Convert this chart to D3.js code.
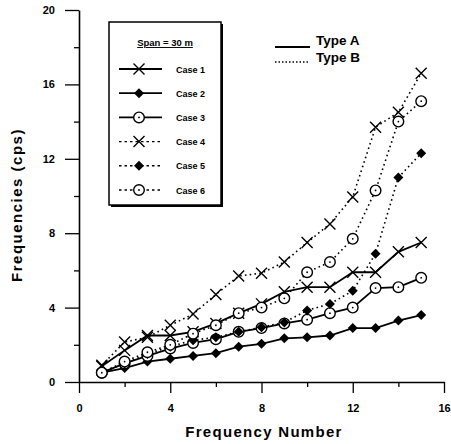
<!DOCTYPE html>
<html>
<head>
<meta charset="utf-8">
<script src="https://cdn.jsdelivr.net/npm/d3@7"></script>
<style>
  body { margin: 0; background: #fff; }
  svg { display: block; }
  text { font-family: "Liberation Sans", Arial, sans-serif; font-weight: bold; fill: #000; }
</style>
</head>
<body>
<div class="chart"></div>
<script>
// frequency numbers 1..15
const modes = [1, 2, 3, 4, 5, 6, 7, 8, 9, 10, 11, 12, 13, 14, 15];

// Type A (solid)
const case1 = [0.85, 1.7, 2.5, 2.5, 2.7, 3.15, 3.7, 4.2, 4.85, 5.1, 5.1, 5.9, 5.9, 7.0, 7.5];
const case2 = [0.5, 0.75, 1.1, 1.25, 1.4, 1.55, 1.9, 2.05, 2.35, 2.4, 2.5, 2.9, 2.9, 3.3, 3.6];
const case3 = [0.5, 1.0, 1.4, 1.8, 2.1, 2.3, 2.7, 2.9, 3.15, 3.35, 3.7, 4.0, 5.05, 5.1, 5.6];
// Type B (dotted)
const case4 = [0.9, 2.15, 2.4, 3.05, 3.65, 4.7, 5.7, 5.85, 6.45, 7.5, 8.5, 9.95, 13.7, 14.5, 16.6];
const case5 = [0.5, 1.0, 1.5, 1.9, 2.25, 2.4, 2.7, 2.95, 3.2, 3.85, 4.2, 4.9, 6.9, 11.0, 12.3];
const case6 = [0.5, 1.1, 1.6, 2.0, 2.6, 3.05, 3.7, 4.0, 4.5, 5.9, 6.45, 7.7, 10.3, 14.0, 15.1];

const caseNames = ["Case 1", "Case 2", "Case 3", "Case 4", "Case 5", "Case 6"];
const caseMarkers = ["x", "diamond", "circle", "x", "diamond", "circle"];
const caseTypes = ["A", "A", "A", "B", "B", "B"];
const caseValues = [case1, case2, case3, case4, case5, case6];

const xTicks = [0, 4, 8, 12, 16];
const yTicks = [0, 4, 8, 12, 16, 20];

const width = 451, height = 444;

const svg = d3.select(".chart").append("svg")
  .attr("width", width)
  .attr("height", height);

const x = d3.scaleLinear().domain([0, 16]).range([79, 444]);
const y = d3.scaleLinear().domain([0, 20]).range([382, 10]);

// axes: major + minor ticks
svg.append("g")
  .attr("transform", `translate(0,${y(0)})`)
  .call(d3.axisBottom(x).tickValues(xTicks).tickSize(11).tickSizeOuter(0).tickPadding(11));
svg.append("g")
  .attr("transform", `translate(0,${y(0)})`)
  .call(d3.axisBottom(x).tickValues([2, 6, 10, 14]).tickSize(5).tickFormat(""))
  .select(".domain").remove();

svg.append("g")
  .attr("transform", `translate(${x(0)},0)`)
  .call(d3.axisLeft(y).tickValues(yTicks).tickSize(14).tickSizeOuter(0).tickPadding(10));
svg.append("g")
  .attr("transform", `translate(${x(0)},0)`)
  .call(d3.axisLeft(y).tickValues([2, 6, 10, 14, 18]).tickSize(5).tickFormat(""))
  .select(".domain").remove();

svg.selectAll(".domain").attr("stroke-width", 1.6);
svg.selectAll(".tick line").attr("stroke-width", 1.3);
svg.selectAll(".tick text")
  .style("font-family", "'Liberation Sans', Arial, sans-serif")
  .style("font-weight", "bold")
  .style("font-size", "11px");

// axis titles
svg.append("text")
  .attr("x", 264).attr("y", 437)
  .attr("text-anchor", "middle")
  .style("font-size", "15px")
  .style("letter-spacing", "1.3px")
  .text("Frequency Number");

svg.append("text")
  .attr("transform", "translate(22,205) rotate(-90)")
  .attr("text-anchor", "middle")
  .style("font-size", "15px")
  .style("letter-spacing", "1.5px")
  .text("Frequencies (cps)");

// marker drawing
function drawMarker(g, type, cx, cy) {
  if (type === "x") {
    const s = 5.5;
    g.append("path")
      .attr("d", `M${cx - s},${cy - s}L${cx + s},${cy + s}M${cx - s},${cy + s}L${cx + s},${cy - s}`)
      .attr("stroke", "#000").attr("stroke-width", 1.4).attr("fill", "none");
  } else if (type === "circle") {
    g.append("circle")
      .attr("cx", cx).attr("cy", cy).attr("r", 5.3)
      .attr("fill", "#fff").attr("stroke", "#000").attr("stroke-width", 1.4);
    g.append("circle")
      .attr("cx", cx).attr("cy", cy).attr("r", 0.9).attr("fill", "#000");
  } else {
    const s = 5;
    g.append("path")
      .attr("d", `M${cx},${cy - s}L${cx + s},${cy}L${cx},${cy + s}L${cx - s},${cy}Z`)
      .attr("fill", "#000");
  }
}

const line = d3.line().x((d, i) => x(modes[i])).y(d => y(d));

const plot = svg.append("g");
caseValues.forEach((vals, k) => {
  const g = plot.append("g").attr("class", "series");
  g.append("path")
    .datum(vals)
    .attr("d", line)
    .attr("fill", "none")
    .attr("stroke", "#000")
    .attr("stroke-width", caseTypes[k] === "A" ? 1.8 : 1.6)
    .attr("stroke-dasharray", caseTypes[k] === "A" ? null : "1.6,3.2");
  vals.forEach((v, i) => drawMarker(g, caseMarkers[k], x(modes[i]), y(v)));
});

// legend box
const lg = svg.append("g");
lg.append("rect")
  .attr("x", 111).attr("y", 24).attr("width", 112).attr("height", 183)
  .attr("fill", "#000");
lg.append("rect")
  .attr("x", 109).attr("y", 22).attr("width", 112).attr("height", 183)
  .attr("fill", "#fff").attr("stroke", "#000").attr("stroke-width", 1.5);

lg.append("text")
  .attr("x", 165).attr("y", 46)
  .attr("text-anchor", "middle")
  .style("font-size", "9.5px")
  .style("text-decoration", "underline")
  .text("Span = 30 m");

caseNames.forEach((name, k) => {
  const yy = 69 + k * 24.2;
  lg.append("line")
    .attr("x1", 119).attr("x2", 162).attr("y1", yy).attr("y2", yy)
    .attr("stroke", "#000")
    .attr("stroke-width", caseTypes[k] === "A" ? 1.8 : 1.4)
    .attr("stroke-dasharray", caseTypes[k] === "A" ? null : "2.5,3");
  drawMarker(lg, caseMarkers[k], 139, yy);
  lg.append("text")
    .attr("x", 176).attr("y", yy + 3.5)
    .style("font-size", "9px")
    .text(name);
});

// type legend
const types = [["A", "Type A"], ["B", "Type B"]];
types.forEach(([t, label], k) => {
  const yy = 47 + k * 15;
  svg.append("line")
    .attr("x1", 275).attr("x2", 310).attr("y1", yy).attr("y2", yy)
    .attr("stroke", "#000")
    .attr("stroke-width", t === "A" ? 2 : 1.4)
    .attr("stroke-dasharray", t === "A" ? null : "1.5,2");
  svg.append("text")
    .attr("x", 316).attr("y", yy - (k === 0 ? 2 : 0))
    .style("font-size", "13.5px")
    .text(label);
});
</script>
</body>
</html>
